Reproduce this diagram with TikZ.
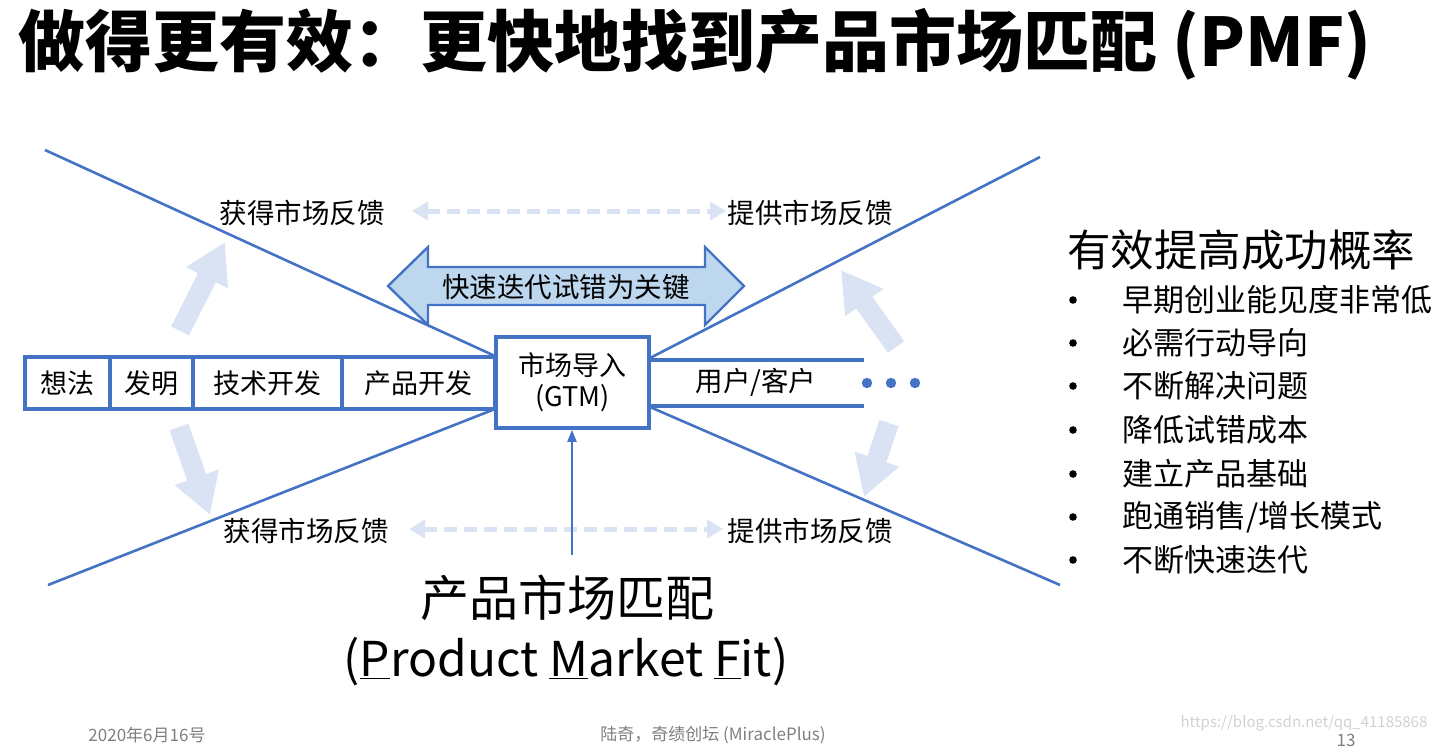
\documentclass[tikz,border=0pt]{standalone}
\usepackage{fontspec}
\setmainfont{Noto Sans CJK SC}
\usetikzlibrary{arrows.meta}
\definecolor{pblue}{HTML}{4472C4}
\definecolor{plight}{HTML}{DAE3F3}
\definecolor{pfill}{HTML}{BDD7EE}
\definecolor{pgray}{HTML}{7F7F7F}
\newcommand{\fs}[1]{\fontsize{#1}{#1}\selectfont}
\tikzset{
  ax/.style={draw=pblue, line width=2.6pt},
  cell/.style={draw=pblue, line width=3.6pt, fill=white, minimum height=52pt, inner sep=0pt, font=\fs{27}},
  lbl/.style={font=\fs{27.5}, inner sep=0pt},
  fb/.style={draw=plight, line width=5pt, dash pattern=on 13pt off 7pt, {Triangle[length=16pt,width=18pt]}-{Triangle[length=16pt,width=18pt]}},
  big/.style={draw=plight, line width=20pt, -{Triangle[length=40pt,width=44pt]}},
  item/.style={font=\fs{31}, anchor=west, inner sep=0pt},
  foot/.style={font=\fs{17}, text=pgray, inner sep=0pt}
}
\begin{document}
\begin{tikzpicture}[x=1pt,y=-1pt]
\useasboundingbox (0,0) rectangle (1436,747);
% title
\node[anchor=west, inner sep=0pt, font=\fs{67}\bfseries] (title) at (18,44) {做得更有效：更快地找到产品市场匹配 (PMF)};

% light feedback arrows (behind)
\coordinate (tlA) at (180,331); \coordinate (tlB) at (225,242);
\coordinate (blA) at (179,427); \coordinate (blB) at (210,515);
\coordinate (brA) at (889,423); \coordinate (brB) at (864,497);
\coordinate (trA) at (896,347); \coordinate (trB) at (841,270);
\draw[big] (tlA) -- (tlB);
\draw[big] (blA) -- (blB);
\draw[big] (brA) -- (brB);
\draw[big] (trA) -- (trB);

% GTM box
\node[draw=pblue, line width=3.6pt, fill=white, minimum width=153pt, minimum height=91pt, inner sep=0pt] (gtm) at (572.5,382.5) {};

% diagonal lines
\coordinate (ul) at (45,150);
\coordinate (ur) at (1040,157);
\coordinate (ll) at (48,585);
\coordinate (lr) at (1060,585);
\coordinate (gul) at (495,356);
\coordinate (gll) at (495,409);
\coordinate (gur) at (650,358);
\coordinate (glr) at (650,407);
\draw[ax] (ul) -- (gul);
\draw[ax] (gll) -- (ll);
\draw[ax] (gur) -- (ur);
\draw[ax] (glr) -- (lr);

% left cells
\node[cell, minimum width=85pt] (c1) at (67.5,383) {想法};
\node[cell, minimum width=83pt] (c2) at (151.5,383) {发明};
\node[cell, minimum width=149pt] (c3) at (267.5,383) {技术开发};
\node[cell, minimum width=153pt] (c4) at (418.5,383) {产品开发};
\node[draw=pblue, line width=3.6pt, fill=white, minimum width=153pt, minimum height=91pt, inner sep=0pt, align=center, font=\fs{27}] (gtmt) at (gtm) {市场导入\\[4pt](GTM)};

% right channel
\coordinate (r1) at (864,360);
\coordinate (r2) at (864,406);
\coordinate (g1) at (650,360);
\coordinate (g2) at (650,406);
\draw[ax, line width=3.4pt] (g1) -- (r1);
\draw[ax, line width=3.4pt] (g2) -- (r2);
\node[lbl] (user) at (756,382) {用户/客户};
\foreach \i/\x in {1/867,2/891,3/915} \fill[pblue] (\x,383) circle (5.2pt) coordinate (d\i);

% quick iteration double arrow
\filldraw[draw=pblue, fill=pfill, line width=2.4pt]
  (388,286) -- (428,247) -- (428,267) -- (705,267) -- (705,247) -- (744,286)
  -- (705,325) -- (705,305) -- (428,305) -- (428,325) -- cycle;
\node[lbl] (key) at (566,287) {快速迭代试错为关键};

% feedback labels and dashed arrows
\node[lbl] (gt) at (302,213) {获得市场反馈};
\node[lbl] (pt) at (810,213) {提供市场反馈};
\node[lbl] (gb) at (306,531) {获得市场反馈};
\node[lbl] (pb) at (810,531) {提供市场反馈};
\coordinate (ft1) at (412,211); \coordinate (ft2) at (726,211);
\coordinate (fb1) at (409,529); \coordinate (fb2) at (723,529);
\draw[fb] (ft1) -- (ft2);
\draw[fb] (fb1) -- (fb2);

% PMF
\node[inner sep=0pt, font=\fs{49}] (pmf) at (567,598) {产品市场匹配};
\node[inner sep=0pt, font=\fs{48}] (pmfe) at (566,662) {(\underline{P}roduct \underline{M}arket \underline{F}it)};
\coordinate (pa) at (572,555);
\draw[draw=pblue, line width=2pt, -{Triangle[length=12pt,width=9pt]}] (pa) -- (gtm.south -| pa);

% right list
\node[anchor=west, inner sep=0pt, font=\fs{43.5}] (head) at (1067,250) {有效提高成功概率};
\foreach \y/\t in {300/{早期创业能见度非常低},343/{必需行动导向},386/{不断解决问题},430/{降低试错成本},474/{建立产品基础},517/{跑通销售/增长模式},560/{不断快速迭代}}{
  \node[item] at (1122,\y) {\t};
  \fill (1073,\y) circle (3.8pt);
}

% footer
\node[foot] (date) at (147,735) {2020年6月16号};
\node[foot] (auth) at (713,735) {陆奇，奇绩创坛 (MiraclePlus)};
\node[font=\fs{15}, text=black!18, inner sep=0pt] (wm) at (1304,723) {https://blog.csdn.net/qq\_41185868};
\node[foot] (pg) at (1346,740) {13};
\end{tikzpicture}
\end{document}
